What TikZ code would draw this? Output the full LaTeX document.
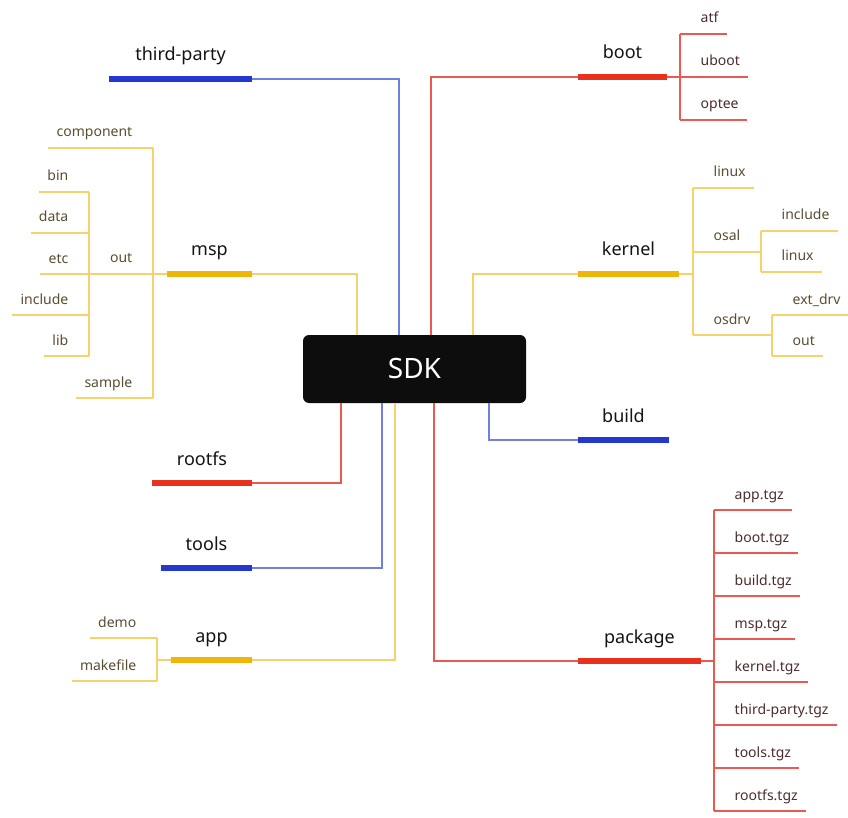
\documentclass[tikz,border=0pt]{standalone}
\usepackage{fontspec}
\setmainfont{Noto Sans}
\usetikzlibrary{calc}
\definecolor{redB}{HTML}{E8321E}
\definecolor{redT}{HTML}{EA5A52}
\definecolor{bluB}{HTML}{2438D0}
\definecolor{bluT}{HTML}{6F80E2}
\definecolor{yelB}{HTML}{F0B50A}
\definecolor{yelT}{HTML}{F6D26E}
\definecolor{mainTxt}{HTML}{141414}
\definecolor{childY}{HTML}{5A4E32}
\definecolor{childR}{HTML}{4B2D2D}
\definecolor{sdkFill}{HTML}{0D0D0D}
\tikzset{
  mainlbl/.style={font=\fontsize{18}{20}\selectfont, text=mainTxt, inner sep=0pt, anchor=base},
  childlbl/.style={font=\fontsize{14}{16}\selectfont, inner sep=0pt},
  barR/.style={line width=5.5pt, draw=redB},
  barB/.style={line width=5.5pt, draw=bluB},
  barY/.style={line width=5.5pt, draw=yelB},
  thinR/.style={line width=1.3pt, draw=redT},
  thinB/.style={line width=1.3pt, draw=bluT},
  thinY/.style={line width=1.3pt, draw=yelT},
}
% right child: name, vx, y, text, line style, text colour
\newcommand\rkid[6]{%
  \node[childlbl, text=#6, anchor=base west] (#1) at (#2+20.5,#3-11) {#4};
  \draw[#5] let \p1=(#1.base east), \p2=(#2,#3) in (\p2) -- (\x1+8pt,\y2);}
% left child
\newcommand\lkid[6]{%
  \node[childlbl, text=#6, anchor=base east] (#1) at (#2-20.5,#3-11) {#4};
  \draw[#5] let \p1=(#1.base west), \p2=(#2,#3) in (\p2) -- (\x1-8pt,\y2);}
\begin{document}
\begin{tikzpicture}[x=1pt,y=-1pt]
\useasboundingbox[fill=white] (0,0) rectangle (848,818);

% central node
\node[fill=sdkFill, rounded corners=6pt, minimum width=223pt, minimum height=68pt,
      inner sep=0pt, text=white, font=\fontsize{28}{30}\selectfont] (sdk) at (414.5,369) {SDK};

% ---------- third-party ----------
\coordinate (tpL) at (109,79); \coordinate (tpR) at (252,79);
\draw[thinB] (sdk.north -| 399,0) |- (tpR);
\draw[barB] (tpL) -- (tpR);
\node[mainlbl] (thirdparty) at (180.5,61) {third-party};

% ---------- msp ----------
\coordinate (mspL) at (167,274); \coordinate (mspR) at (252,274);
\draw[thinY] (sdk.north -| 357,0) |- (mspR);
\draw[barY] (mspL) -- (mspR);
\node[mainlbl] (msp) at (209.5,256) {msp};
\coordinate (mspV1) at (153,148); \coordinate (mspV2) at (153,398);
\draw[thinY] (mspL) -- (mspL -| mspV1);
\draw[thinY] (mspV1) -- (mspV2);
\lkid{component}{153}{148}{component}{thinY}{childY}
\lkid{sample}{153}{398}{sample}{thinY}{childY}
\node[childlbl, text=childY, anchor=base east] (out) at (132.5,262) {out};
\coordinate (outV1) at (89,192); \coordinate (outV2) at (89,356);
\draw[thinY] (153,274) -- (89,274);
\draw[thinY] (outV1) -- (outV2);
\lkid{bin}{89}{192}{bin}{thinY}{childY}
\lkid{data}{89}{233}{data}{thinY}{childY}
\lkid{etc}{89}{274}{etc}{thinY}{childY}
\lkid{mspinc}{89}{315}{include}{thinY}{childY}
\lkid{lib}{89}{356}{lib}{thinY}{childY}

% ---------- rootfs ----------
\coordinate (rfL) at (152,483); \coordinate (rfR) at (252,483);
\draw[thinR] (sdk.south -| 341,0) |- (rfR);
\draw[barR] (rfL) -- (rfR);
\node[mainlbl] (rootfs) at (202,465) {rootfs};

% ---------- tools ----------
\coordinate (tlL) at (161,568); \coordinate (tlR) at (252,568);
\draw[thinB] (sdk.south -| 382,0) |- (tlR);
\draw[barB] (tlL) -- (tlR);
\node[mainlbl] (tools) at (206.5,550) {tools};

% ---------- app ----------
\coordinate (apL) at (171,660); \coordinate (apR) at (252,660);
\draw[thinY] (sdk.south -| 395,0) |- (apR);
\draw[barY] (apL) -- (apR);
\node[mainlbl] (app) at (211.5,642) {app};
\coordinate (apV1) at (157,638); \coordinate (apV2) at (157,681);
\draw[thinY] (apL) -- (apL -| apV1);
\draw[thinY] (apV1) -- (apV2);
\lkid{demo}{157}{638}{demo}{thinY}{childY}
\lkid{makefile}{157}{681}{makefile}{thinY}{childY}

% ---------- boot ----------
\coordinate (btL) at (578,77); \coordinate (btR) at (667,77);
\draw[thinR] (sdk.north -| 431,0) |- (btL);
\draw[barR] (btL) -- (btR);
\node[mainlbl] (boot) at (622.5,59) {boot};
\coordinate (btV1) at (680,34); \coordinate (btV2) at (680,120);
\draw[thinR] (btR) -- (btR -| btV1);
\draw[thinR] (btV1) -- (btV2);
\rkid{atf}{680}{34}{atf}{thinR}{childR}
\rkid{uboot}{680}{77}{uboot}{thinR}{childR}
\rkid{optee}{680}{120}{optee}{thinR}{childR}

% ---------- kernel ----------
\coordinate (knL) at (578,274); \coordinate (knR) at (679,274);
\draw[thinY] (sdk.north -| 473,0) |- (knL);
\draw[barY] (knL) -- (knR);
\node[mainlbl] (kernel) at (628.5,256) {kernel};
\coordinate (knV1) at (693,188); \coordinate (knV2) at (693,335);
\draw[thinY] (knR) -- (knR -| knV1);
\draw[thinY] (knV1) -- (knV2);
\rkid{linux}{693}{188}{linux}{thinY}{childY}
\node[childlbl, text=childY, anchor=base west] (osal) at (713.5,241) {osal};
\node[childlbl, text=childY, anchor=base west] (osdrv) at (713.5,324) {osdrv};
\coordinate (osV1) at (761,231); \coordinate (osV2) at (761,272);
\coordinate (odV1) at (772,315); \coordinate (odV2) at (772,356);
\draw[thinY] (693,252) -- (761,252);
\draw[thinY] (693,335) -- (772,335);
\draw[thinY] (osV1) -- (osV2);
\draw[thinY] (odV1) -- (odV2);
\rkid{osinc}{761}{231}{include}{thinY}{childY}
\rkid{oslinux}{761}{272}{linux}{thinY}{childY}
\rkid{extdrv}{772}{315}{ext\_drv}{thinY}{childY}
\rkid{odout}{772}{356}{out}{thinY}{childY}

% ---------- build ----------
\coordinate (bdL) at (578,440); \coordinate (bdR) at (669,440);
\draw[thinB] (sdk.south -| 489,0) |- (bdL);
\draw[barB] (bdL) -- (bdR);
\node[mainlbl] (build) at (623.5,422) {build};

% ---------- package ----------
\coordinate (pkL) at (578,661); \coordinate (pkR) at (701,661);
\draw[thinR] (sdk.south -| 434,0) |- (pkL);
\draw[barR] (pkL) -- (pkR);
\node[mainlbl] (package) at (639.5,643) {package};
\coordinate (pkV1) at (714,510); \coordinate (pkV2) at (714,811);
\draw[thinR] (pkR) -- (pkR -| pkV1);
\draw[thinR] (pkV1) -- (pkV2);
\rkid{apptgz}{714}{510}{app.tgz}{thinR}{childR}
\rkid{boottgz}{714}{553}{boot.tgz}{thinR}{childR}
\rkid{buildtgz}{714}{596}{build.tgz}{thinR}{childR}
\rkid{msptgz}{714}{639}{msp.tgz}{thinR}{childR}
\rkid{kerneltgz}{714}{682}{kernel.tgz}{thinR}{childR}
\rkid{tptgz}{714}{725}{third-party.tgz}{thinR}{childR}
\rkid{toolstgz}{714}{768}{tools.tgz}{thinR}{childR}
\rkid{rootfstgz}{714}{811}{rootfs.tgz}{thinR}{childR}
\end{tikzpicture}
\end{document}
